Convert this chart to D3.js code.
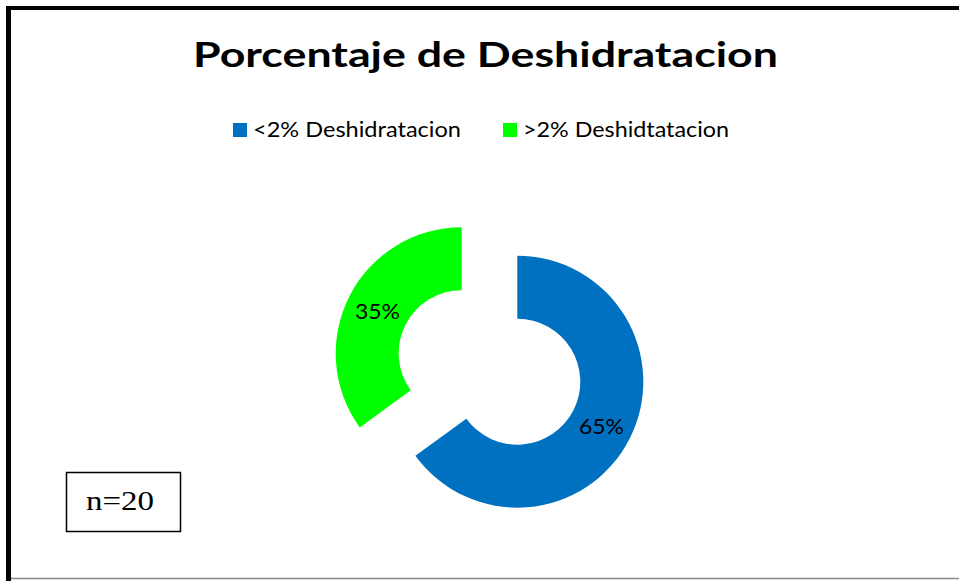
<!DOCTYPE html>
<html><head><meta charset="utf-8">
<script src="https://cdn.jsdelivr.net/npm/d3@7"></script>
<style>body{margin:0;background:#fff}svg{display:block}</style>
</head><body>
<svg id="c" width="959" height="581"></svg>
<script>
const title = "Porcentaje de Deshidratacion";
const categories = ["<2% Deshidratacion", ">2% Deshidtatacion"];
const values = [65, 35];
const labels = ["65%", "35%"];
const colors = ["#0070C0", "#00FF00"];
const note = "n=20";

const W = 959, H = 581;
const svg = d3.select("#c");
const font = "Lato, 'Open Sans', sans-serif";

// frame
svg.append("rect").attr("x", 0).attr("y", 0).attr("width", W).attr("height", H).attr("fill", "#fff");
svg.append("line").attr("x1", 8.5).attr("x2", 8.5).attr("y1", 6).attr("y2", H).attr("stroke", "#000").attr("stroke-width", 5);
svg.append("line").attr("x1", 6).attr("x2", W).attr("y1", 8).attr("y2", 8).attr("stroke", "#000").attr("stroke-width", 4);
svg.append("line").attr("x1", 11).attr("x2", W).attr("y1", 578.5).attr("y2", 578.5).attr("stroke", "#888").attr("stroke-width", 1.5);

function stretch(sel, w) {
  sel.attr("textLength", w).attr("lengthAdjust", "spacingAndGlyphs");
}

// title
const t = svg.append("text").attr("x", 193).attr("y", 67).attr("font-family", font)
  .attr("font-weight", "bold").attr("font-size", 34).attr("fill", "#000").text(title);
stretch(t, 585);

// legend
const legX = [233, 503], legTextX = [253, 523], legW = [208, 206];
categories.forEach((c, i) => {
  svg.append("rect").attr("x", legX[i]).attr("y", 123).attr("width", 14).attr("height", 14).attr("fill", colors[i]);
  const lt = svg.append("text").attr("x", legTextX[i]).attr("y", 137).attr("font-family", font)
    .attr("font-size", 21).attr("fill", "#000").text(c);
  stretch(lt, legW[i]);
});

// donut
const cx = 489.5, cy = 367.5, rOut = 126, rIn = 63, explode = 31.2;
const pie = d3.pie().sort(null).value(d => d)(values);
const arc = d3.arc().innerRadius(rIn).outerRadius(rOut);
const g = svg.append("g").attr("transform", `translate(${cx},${cy})`);
pie.forEach((p, i) => {
  const mid = (p.startAngle + p.endAngle) / 2;
  const dx = explode * Math.sin(mid), dy = -explode * Math.cos(mid);
  const sg = g.append("g").attr("transform", `translate(${dx},${dy})`);
  sg.append("path").attr("d", arc(p)).attr("fill", colors[i]);
  const [lx, ly] = arc.centroid(p);
  const lt = sg.append("text").attr("x", lx).attr("y", ly + 9).attr("text-anchor", "middle")
    .attr("font-family", font).attr("font-size", 22).attr("fill", "#000").text(labels[i]);
  stretch(lt, 45);
});

// n box
svg.append("rect").attr("x", 66.5).attr("y", 472.5).attr("width", 114).attr("height", 59)
  .attr("fill", "#fff").attr("stroke", "#000").attr("stroke-width", 1.5);
const nt = svg.append("text").attr("x", 86).attr("y", 510)
  .attr("font-family", "'Liberation Serif', 'DejaVu Serif', serif").attr("font-size", 28).attr("fill", "#000").text(note);
stretch(nt, 68);
</script>
</body></html>
